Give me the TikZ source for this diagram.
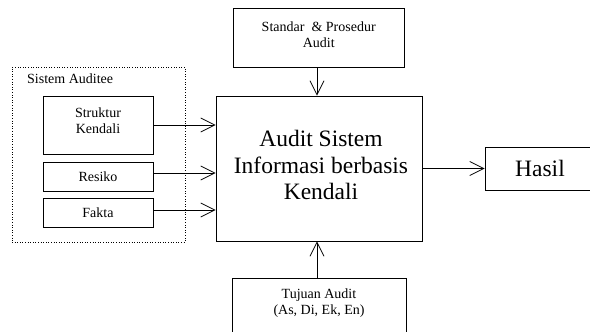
\documentclass[tikz,border=0pt]{standalone}
\usepackage{fontspec}
\setmainfont{Liberation Serif}
\usetikzlibrary{arrows.meta}
\begin{document}
\begin{tikzpicture}[x=1pt,y=-1pt,
  box/.style={draw, line width=0.8pt, inner sep=0pt},
  small/.style={font=\fontsize{14}{15.5}\selectfont, align=center, inner sep=0pt},
  big/.style={font=\fontsize{23.5}{26.5}\selectfont, align=center, inner sep=0pt},
  arr/.style={line width=0.8pt, -{Straight Barb[length=14pt,width=14pt,line width=0.8pt]}}]
\useasboundingbox (0,0) rectangle (590,332);
\clip (0,0) rectangle (590,332);
% Sistem Auditee group
\node[draw, dotted, line width=0.6pt, inner sep=0pt, minimum width=173pt, minimum height=175pt] (sys) at (98.5,154.5) {};
\node[small, anchor=base west] (sysl) at (27,83) {Sistem Auditee};
\node[box, minimum width=110pt, minimum height=58pt] (strk) at (98,125) {};
\node[small] (strkt) at (98,120.7) {Struktur\\Kendali};
\node[box, small, minimum width=110pt, minimum height=29pt] (res) at (98,176.5) {Resiko};
\node[box, small, minimum width=110pt, minimum height=29pt] (fak) at (98,212.5) {Fakta};
% main
\node[box, minimum width=206pt, minimum height=145pt] (main) at (319,168.5) {};
\node[big] (maint) at (321,165.4) {Audit Sistem\\Informasi berbasis\\Kendali};
% top
\node[box, minimum width=171pt, minimum height=59pt] (std) at (318.5,37.5) {};
\node[small] (stdt) at (318.7,34.7) {Standar\ \ \& Prosedur\\Audit};
% bottom
\node[box, minimum width=174pt, minimum height=70pt] (tuj) at (319,313) {};
\node[small] (tujt) at (319,303) {Tujuan Audit\\(As, Di, Ek, En)};
% result
\node[box, big, minimum width=110pt, minimum height=43pt] (has) at (540,168.5) {Hasil};
% connectors
\draw[arr] (strk.east) -- (strk.east -| main.west);
\draw[arr] ([yshift=3.5pt]res.east) -- ([yshift=3.5pt]res.east -| main.west);
\draw[arr] ([yshift=2.5pt]fak.east) -- ([yshift=2.5pt]fak.east -| main.west);
\draw[arr] (main.east) -- (has.west);
\draw[arr] ([xshift=-1.5pt]std.south) -- ([xshift=-1.5pt]std.south |- main.north);
\draw[arr] ([xshift=-2pt]tuj.north) -- ([xshift=-2pt]tuj.north |- main.south);
\end{tikzpicture}
\end{document}
